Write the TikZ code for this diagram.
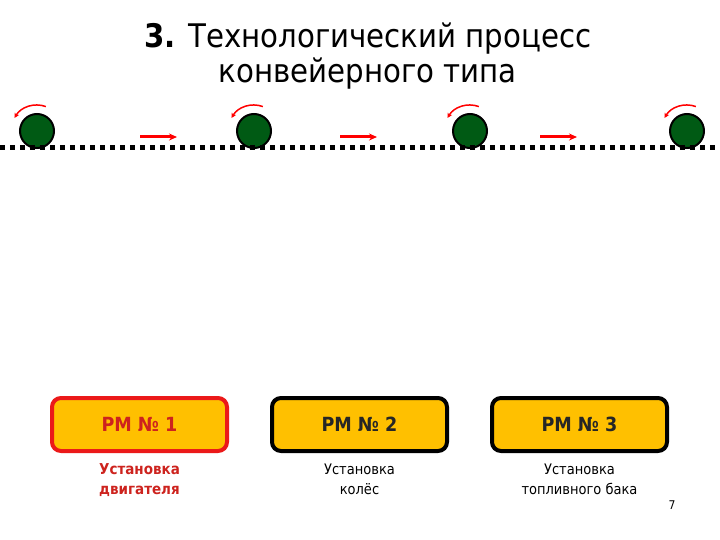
\documentclass[tikz,border=0pt]{standalone}
\usepackage{fontspec}
\setmainfont{DejaVu Sans Condensed}
\usetikzlibrary{positioning,arrows.meta}
\definecolor{wheelgreen}{RGB}{0,90,20}
\definecolor{boxfill}{RGB}{255,192,0}
\definecolor{rmred}{RGB}{235,25,25}
\definecolor{txtred}{RGB}{205,35,30}
\begin{document}
\begin{tikzpicture}[x=1pt,y=-1pt,>={Stealth[length=8pt,width=7pt]},
  wheel/.style={circle,draw=black,line width=2pt,fill=wheelgreen,minimum size=34pt,inner sep=0pt},
  rmbox/.style={draw=black,line width=4pt,fill=boxfill,rounded corners=9pt,minimum width=175pt,minimum height=53pt,font=\bfseries\fontsize{19.5}{22}\selectfont,text=black!85},
  note/.style={align=center,font=\fontsize{14.5}{20}\selectfont}]
\useasboundingbox (0,0) rectangle (720,540);
\node[align=center,font=\fontsize{32.5}{35}\selectfont] (title) at (368,56) {\textbf{3.} Технологический процесс\\конвейерного типа};
% wheels and conveyor
\foreach \i/\x in {1/37,2/254,3/470,4/687} {
  \node[wheel] (w\i) at (\x,131) {};
  \draw[red,line width=1.5pt,->,>={Stealth[length=5pt,width=5pt]}] (w\i) ++(-70:26) arc (-70:-150:26);
}
\draw[line width=5pt,dash pattern=on 5pt off 5pt] (0,147.5) -- (720,147.5);
\foreach \i/\x in {1/140,2/340,3/540} {
  \coordinate (s\i) at (\x,137);
  \coordinate (e\i) at (\x+37,137);
  \draw[red,line width=3pt,->] (s\i) -- (e\i);
}
% work places
\node[rmbox,draw=rmred,text=txtred] (rm1) at (139.5,424.5) {РМ № 1};
\node[rmbox] (rm2) at (359.5,424.5) {РМ № 2};
\node[rmbox] (rm3) at (579.5,424.5) {РМ № 3};
\node[note,text=txtred,font=\bfseries\fontsize{15}{20}\selectfont,below=7pt of rm1] (n1) {Установка\\двигателя};
\node[note,below=7pt of rm2] (n2) {Установка\\колёс};
\node[note,below=7pt of rm3] (n3) {Установка\\топливного бака};
\node[font=\fontsize{12}{14}\selectfont] (page) at (672,505) {7};
\end{tikzpicture}
\end{document}
